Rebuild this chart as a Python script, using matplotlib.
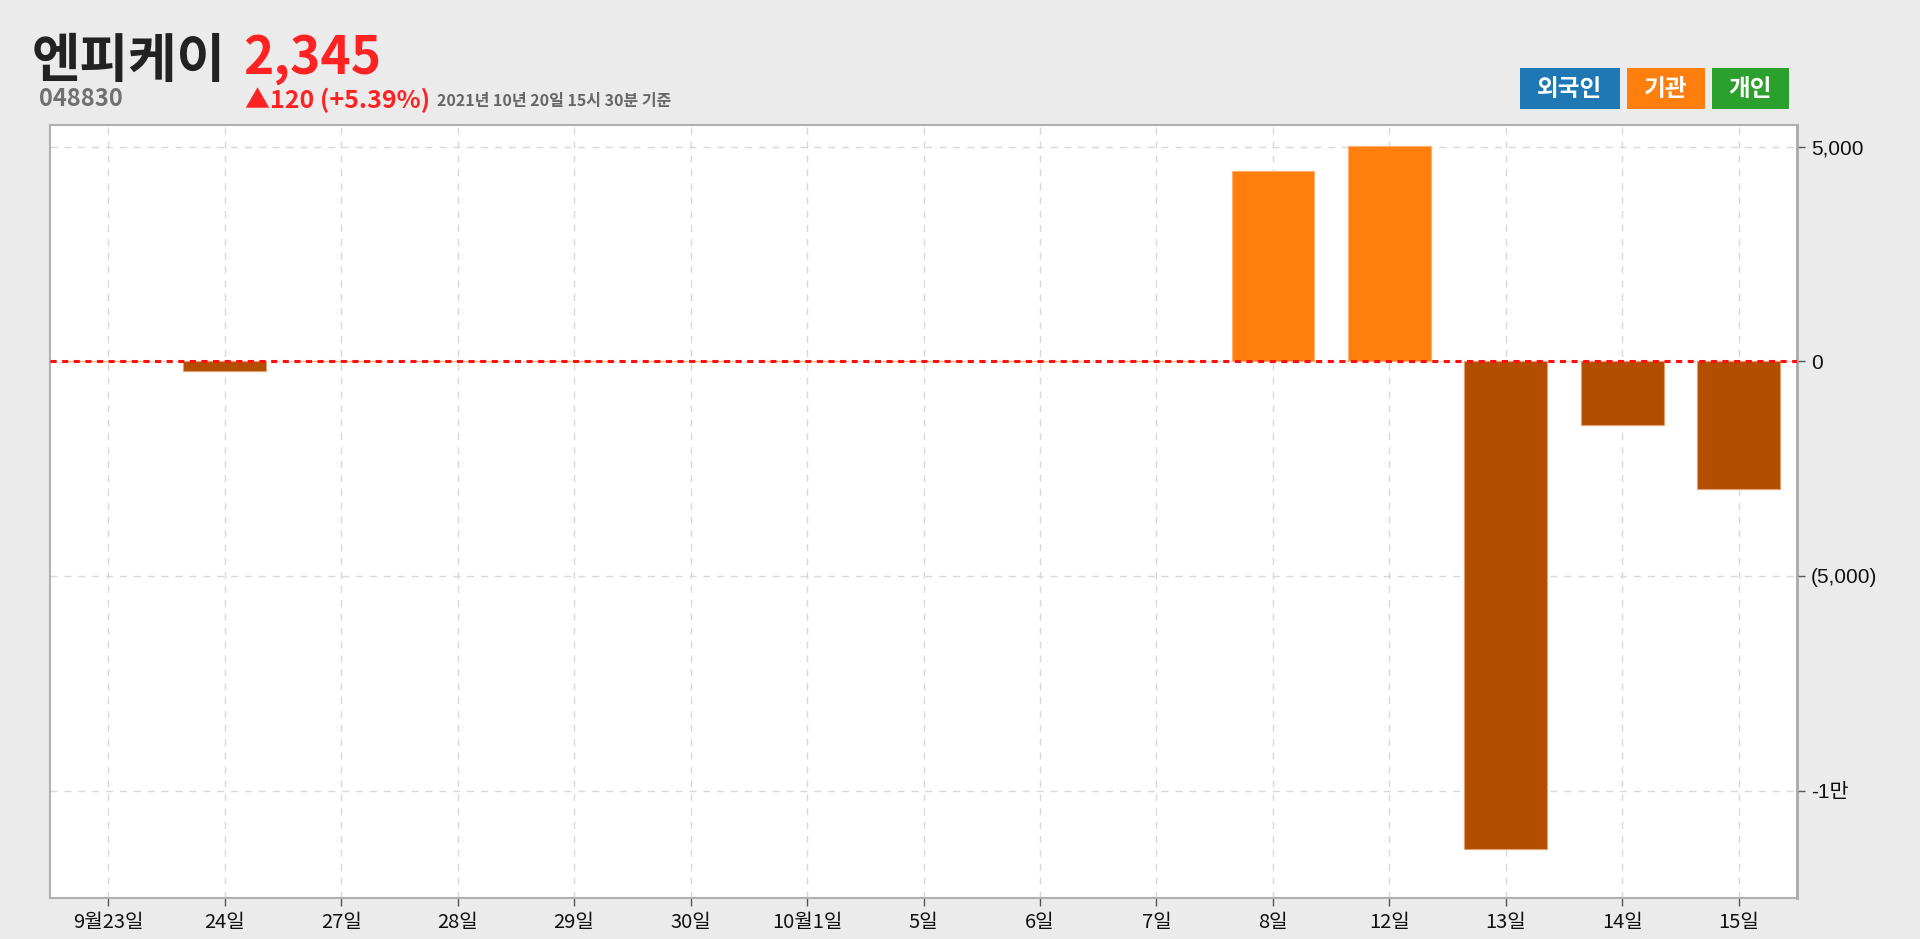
import matplotlib
matplotlib.use("Agg")
import matplotlib.pyplot as plt
from matplotlib.patches import Rectangle

# 데이터
dates = ["9월23일", "24일", "27일", "28일", "29일", "30일", "10월1일", "5일",
         "6일", "7일", "8일", "12일", "13일", "14일", "15일"]
values = [0, -233, 0, 0, 0, 0, 0, 0, 0, 0, 4450, 5010, -11368, -1492, -2984]
ytick_values = [5000, 0, -5000, -10000]
ytick_labels = ["5,000", "0", "(5,000)", "-1만"]
legend_labels = ["외국인", "기관", "개인"]
legend_colors = ["#1f77b4", "#ff7f0e", "#2ca02c"]

name = "엔피케이"
code = "048830"
price = "2,345"
change = "▲120 (+5.39%)"
stamp = "2021년 10년 20일 15시 30분 기준"

kr = ["Noto Sans CJK KR", "DejaVu Sans"]
num = ["Liberation Sans", "Noto Sans CJK KR"]

fig = plt.figure(figsize=(19.2, 9.39), dpi=100, facecolor="#ebebeb")
ax = fig.add_axes([50 / 1920, 1 - 898 / 939, (1797 - 50) / 1920, (898 - 125) / 939])
ax.set_facecolor("white")

pos_color = "#ff7f0e"
neg_color = "#b34d00"
x = range(len(dates))
colors = [pos_color if v >= 0 else neg_color for v in values]
edges = ["#ffb070" if v >= 0 else "#e0a070" for v in values]
ax.bar(x, values, width=0.71, color=colors, edgecolor=edges, linewidth=0.8, zorder=3)

ax.axhline(0, color="#ff1010", linestyle=(0, (2, 1.8)), linewidth=2.2, zorder=4)

ax.set_xlim(-0.5, len(dates) - 0.5)
ax.set_ylim(min(values) * 1.1, max(values) * 1.1)

ax.set_xticks(list(x))
ax.set_xticklabels(dates, fontsize=14.5, family=kr, color="#111111")
ax.yaxis.tick_right()
ax.set_yticks(ytick_values)
ax.set_yticklabels(ytick_labels, fontsize=15, family=num, color="#111111")
ax.tick_params(axis="both", direction="out", length=6, width=1, color="#555555", pad=4)

ax.grid(True, color="#d8d8d8", linestyle=(0, (5, 5)), linewidth=1, zorder=0)
ax.set_axisbelow(True)

for side in ["left", "bottom", "top"]:
    ax.spines[side].set_color("#b0b0b0")
    ax.spines[side].set_linewidth(1.5)
ax.spines["right"].set_color("#a8a8a8")
ax.spines["right"].set_linewidth(2)

# 헤더
fig.text(32 / 1920, 1 - 77 / 939, name, fontsize=38, fontweight="bold",
         color="#222222", family=kr, va="baseline")
fig.text(243 / 1920, 1 - 74 / 939, price, fontsize=37, fontweight="bold",
         color="#ff2222", family=kr, va="baseline")
fig.text(39 / 1920, 1 - 106 / 939, code, fontsize=17, fontweight="bold",
         color="#707070", family=kr, va="baseline")
fig.text(245 / 1920, 1 - 108 / 939, change, fontsize=18, fontweight="bold",
         color="#ff2222", family=kr, va="baseline")
fig.text(437 / 1920, 1 - 106 / 939, stamp, fontsize=11.5, fontweight="bold",
         color="#666666", family=kr, va="baseline")

# 범례 박스
boxes = [(1520, 1620), (1627, 1705), (1712, 1789)]
for (x0, x1), lab, col in zip(boxes, legend_labels, legend_colors):
    fig.patches.append(Rectangle((x0 / 1920, 1 - 109 / 939), (x1 - x0) / 1920, 41 / 939,
                                 transform=fig.transFigure, facecolor=col,
                                 edgecolor="none"))
    fig.text((x0 + x1) / 2 / 1920, 1 - 89 / 939, lab, fontsize=17, fontweight="bold",
             color="white", family=kr, ha="center", va="center")

fig.savefig("out.png", dpi=100, facecolor=fig.get_facecolor())
